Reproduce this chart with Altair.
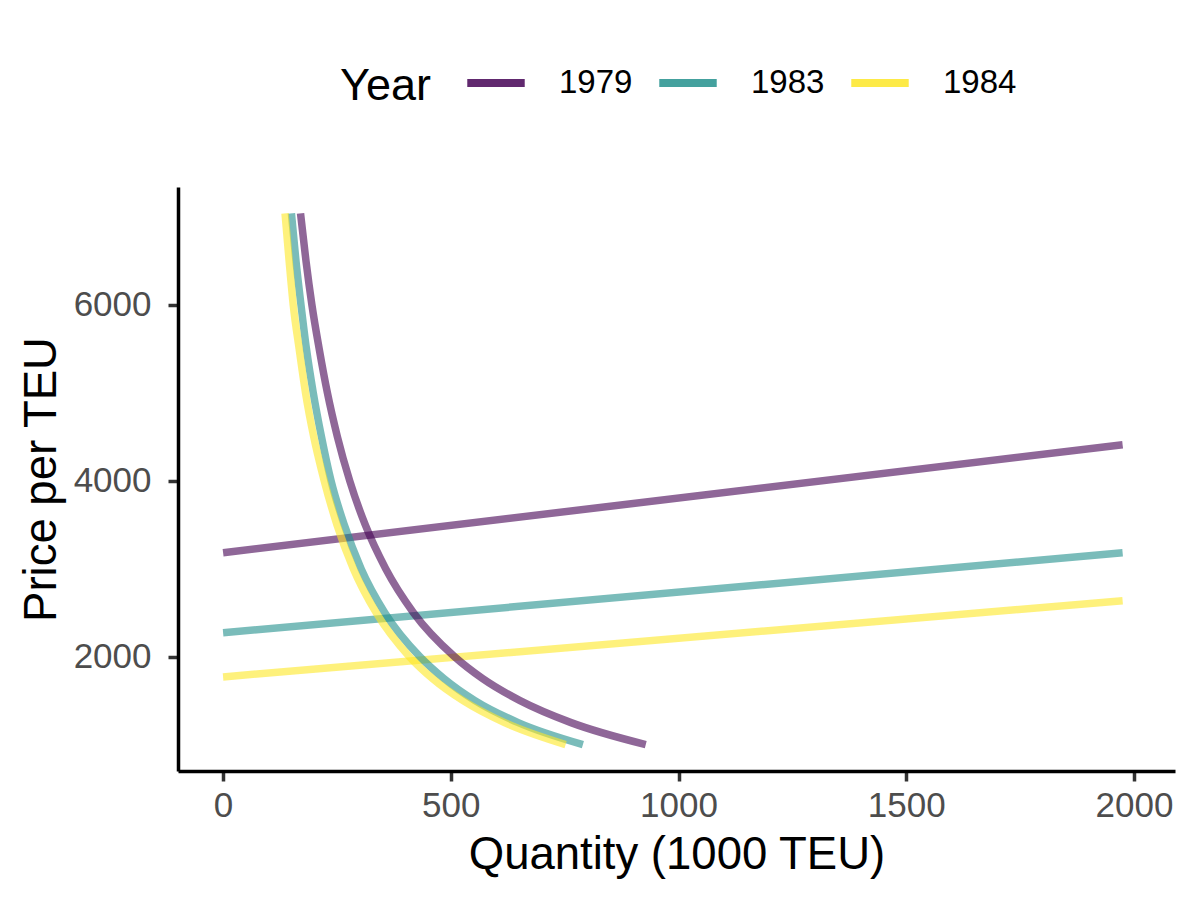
import altair as alt
import pandas as pd

years = ["1979", "1983", "1984"]
colors = ["#440154", "#21908C", "#FDE725"]

# Demand curves: price levels and quantities
demand_price = [7040, 6500, 6000, 5500, 5000, 4500, 4000, 3500, 3000, 2500, 2000, 1750, 1500, 1250, 1000]
demand_q_1979 = [170, 182, 195, 211, 229, 251, 278, 312, 357, 418, 508, 570, 652, 764, 928]
demand_q_1983 = [150, 160, 171, 183, 198, 216, 237, 266, 303, 355, 432, 485, 553, 648, 790]
demand_q_1984 = [136, 145, 154, 167, 181, 199, 222, 250, 286, 336, 409, 460, 527, 618, 752]

# Supply lines: end points
supply_q = [0, 1975]
supply_p_1979 = [3182, 4409]
supply_p_1983 = [2273, 3182]
supply_p_1984 = [1770, 2636]

x_ticks = [0, 500, 1000, 1500, 2000]
y_ticks = [2000, 4000, 6000]

rows = []
for yr, qs in zip(years, [demand_q_1979, demand_q_1983, demand_q_1984]):
    for q, p in zip(qs, demand_price):
        rows.append({"year": yr, "curve": "demand", "q": q, "p": p})
for yr, ps in zip(years, [supply_p_1979, supply_p_1983, supply_p_1984]):
    for q, p in zip(supply_q, ps):
        rows.append({"year": yr, "curve": "supply", "q": q, "p": p})
df = pd.DataFrame(rows)

FONT = "Liberation Sans"

color = alt.Color(
    "year:N",
    scale=alt.Scale(domain=years, range=colors),
    legend=alt.Legend(
        title="Year",
        orient="none",
        legendX=162,
        legendY=-137,
        direction="horizontal",
        titleOrient="left",
    ),
)
x = alt.X(
    "q:Q",
    scale=alt.Scale(domain=[-99, 2090], nice=False, zero=False),
    axis=alt.Axis(values=x_ticks, title="Quantity (1000 TEU)", format="d"),
)
y = alt.Y(
    "p:Q",
    scale=alt.Scale(domain=[700, 7340], nice=False, zero=False),
    axis=alt.Axis(values=y_ticks, title="Price per TEU", format="d"),
)

supply = (
    alt.Chart(df)
    .transform_filter(alt.datum.curve == "supply")
    .mark_line(strokeWidth=7.5, opacity=0.6, strokeCap="butt")
    .encode(x=x, y=y, color=color, order=alt.Order("q:Q"))
)
demand = (
    alt.Chart(df)
    .transform_filter(alt.datum.curve == "demand")
    .mark_line(strokeWidth=7.5, opacity=0.6, strokeCap="butt", interpolate="monotone")
    .encode(x=x, y=y, color=color, order=alt.Order("q:Q"))
)

chart = (
    alt.layer(supply, demand)
    .properties(
        width=997,
        height=584,
        padding={"left": 170, "top": 179, "right": 17, "bottom": 121},
        autosize=alt.AutoSizeParams(type="none"),
        background="white",
    )
    .configure_view(stroke=None)
    .configure_axis(
        grid=False,
        domainColor="black",
        domainWidth=3.5,
        tickColor="#333333",
        tickWidth=3.5,
        tickSize=10,
        labelFont=FONT,
        labelFontSize=35,
        labelColor="#4D4D4D",
        titleFont=FONT,
        titleFontSize=45.5,
        titleFontWeight="normal",
        titleColor="black",
    )
    .configure_axisX(labelPadding=7, titlePadding=9)
    .configure_axisY(labelPadding=17, titlePadding=8)
    .configure_legend(
        labelFont=FONT,
        labelFontSize=33,
        labelColor="black",
        titleFont=FONT,
        titleFontSize=45,
        titleFontWeight="normal",
        titleColor="black",
        titleBaseline="alphabetic",
        titleAnchor="end",
        titlePadding=32,
        symbolType="stroke",
        symbolStrokeWidth=8,
        symbolSize=3300,
        symbolOpacity=0.84,
        labelOffset=30,
        columnPadding=10,
    )
)

chart.save("out.html", embed_options={"renderer": "svg", "actions": False})
